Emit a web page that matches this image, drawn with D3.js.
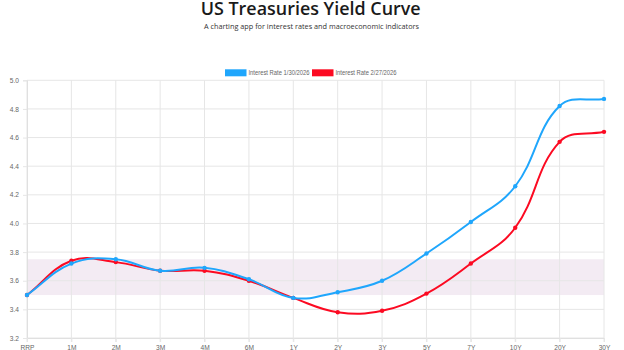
<!DOCTYPE html>
<html><head><meta charset="utf-8">
<script src="https://cdn.jsdelivr.net/npm/d3@7"></script>
<style>body{margin:0;background:#fff}svg{display:block}</style>
</head><body><svg id="c" width="624" height="350"></svg>
<script>
const categories = ["RRP","1M","2M","3M","4M","6M","1Y","2Y","3Y","5Y","7Y","10Y","20Y","30Y"];
const seriesJan = [3.50,3.72,3.75,3.67,3.69,3.61,3.48,3.52,3.60,3.79,4.01,4.26,4.82,4.87];
const seriesFeb = [3.50,3.74,3.73,3.67,3.67,3.60,3.48,3.38,3.39,3.51,3.72,3.97,4.57,4.64];
const seriesNames = ["Interest Rate 1/30/2026","Interest Rate 2/27/2026"];
const yTicks = [3.2,3.4,3.6,3.8,4.0,4.2,4.4,4.6,4.8,5.0];
const band = [3.5,3.75];
const colors = ["#1fa6fc","#fc0a22"];

const svg = d3.select("#c");
const L=27, R=604, T=80.3, B=338;
const x = d3.scalePoint().domain(categories).range([L,R]);
const y = d3.scaleLinear().domain([3.2,5.0]).range([B,T]);

// title
svg.append("text").attr("x",200.7).attr("y",15.3)
  .attr("font-family","'Open Sans',sans-serif").attr("font-size",17.5).attr("font-weight",600)
  .attr("fill","#1a1a1a").attr("textLength",220).attr("lengthAdjust","spacingAndGlyphs")
  .text("US Treasuries Yield Curve");
svg.append("text").attr("x",204).attr("y",28.5)
  .attr("font-family","'Open Sans',sans-serif").attr("font-size",7.3)
  .attr("textLength",215).attr("lengthAdjust","spacingAndGlyphs")
  .attr("fill","#333").text("A charting app for interest rates and macroeconomic indicators");

// band
svg.append("rect").attr("x",L).attr("width",R-L).attr("y",y(band[1])).attr("height",y(band[0])-y(band[1]))
  .attr("fill","#f3ebf3");

// grid
const g = svg.append("g");
g.selectAll(".hg").data(yTicks).join("line").attr("x1",L).attr("x2",R)
  .attr("y1",d=>y(d)).attr("y2",d=>y(d)).attr("stroke","#e6e6e6").attr("stroke-width",1);
g.selectAll(".vg").data(categories).join("line").attr("x1",d=>x(d)).attr("x2",d=>x(d))
  .attr("y1",T).attr("y2",B+4).attr("stroke","#e6e6e6").attr("stroke-width",1);

// axes
const yAx = svg.append("g").attr("transform",`translate(${L},0)`)
  .call(d3.axisLeft(y).tickValues(yTicks).tickFormat(d3.format(".1f")).tickSize(4).tickPadding(4));
const xAx = svg.append("g").attr("transform",`translate(0,${B})`)
  .call(d3.axisBottom(x).tickSize(4).tickPadding(3));
[yAx,xAx].forEach(a=>{
  a.select(".domain").attr("stroke","#e0e0e0");
  a.selectAll(".tick line").attr("stroke","#e6e6e6");
  a.selectAll("text").attr("font-family","Arial, 'Liberation Sans', sans-serif").attr("font-size",6.6).attr("fill","#666");
});

// Chart.js-like spline curve (tension 0.4)
function chartjsCurve(context){
  let pts=[];
  return {
    areaStart(){}, areaEnd(){},
    lineStart(){pts=[];},
    point(px,py){pts.push([+px,+py]);},
    lineEnd(){
      const t=0.4, n=pts.length;
      const cps=pts.map((p,i)=>{
        const pr=pts[Math.max(0,i-1)], nx=pts[Math.min(n-1,i+1)];
        const d01=Math.hypot(p[0]-pr[0],p[1]-pr[1]);
        const d12=Math.hypot(nx[0]-p[0],nx[1]-p[1]);
        let s01=d01/(d01+d12), s12=d12/(d01+d12);
        if(isNaN(s01))s01=0; if(isNaN(s12))s12=0;
        const fa=t*s01, fb=t*s12;
        return {
          prev:[p[0]-fa*(nx[0]-pr[0]), p[1]-fa*(nx[1]-pr[1])],
          next:[p[0]+fb*(nx[0]-pr[0]), p[1]+fb*(nx[1]-pr[1])]
        };
      });
      context.moveTo(pts[0][0],pts[0][1]);
      for(let i=1;i<n;i++){
        const a=cps[i-1].next, b=cps[i].prev;
        context.bezierCurveTo(a[0],a[1],b[0],b[1],pts[i][0],pts[i][1]);
      }
    }
  };
}

const series=[seriesJan,seriesFeb];
const line=d3.line().x((d,i)=>x(categories[i])).y(d=>y(d)).curve(chartjsCurve);
[1,0].forEach(k=>{
  svg.append("path").datum(series[k]).attr("d",line).attr("fill","none")
    .attr("stroke",colors[k]).attr("stroke-width",2);
  svg.append("g").selectAll("circle").data(series[k]).join("circle")
    .attr("cx",(d,i)=>x(categories[i])).attr("cy",d=>y(d)).attr("r",2.2).attr("fill",colors[k]);
});

// legend
const leg=svg.append("g").attr("font-family","Arial, 'Liberation Sans', sans-serif").attr("font-size",6.4).attr("fill","#666");
const legX=[225,312];
seriesNames.forEach((nm,k)=>{
  leg.append("rect").attr("x",legX[k]).attr("y",69.3).attr("width",21.5).attr("height",7).attr("fill",colors[k]);
  leg.append("text").attr("x",legX[k]+23.5).attr("y",75.3)
    .attr("textLength",61).attr("lengthAdjust","spacingAndGlyphs").text(nm);
});
</script></body></html>
